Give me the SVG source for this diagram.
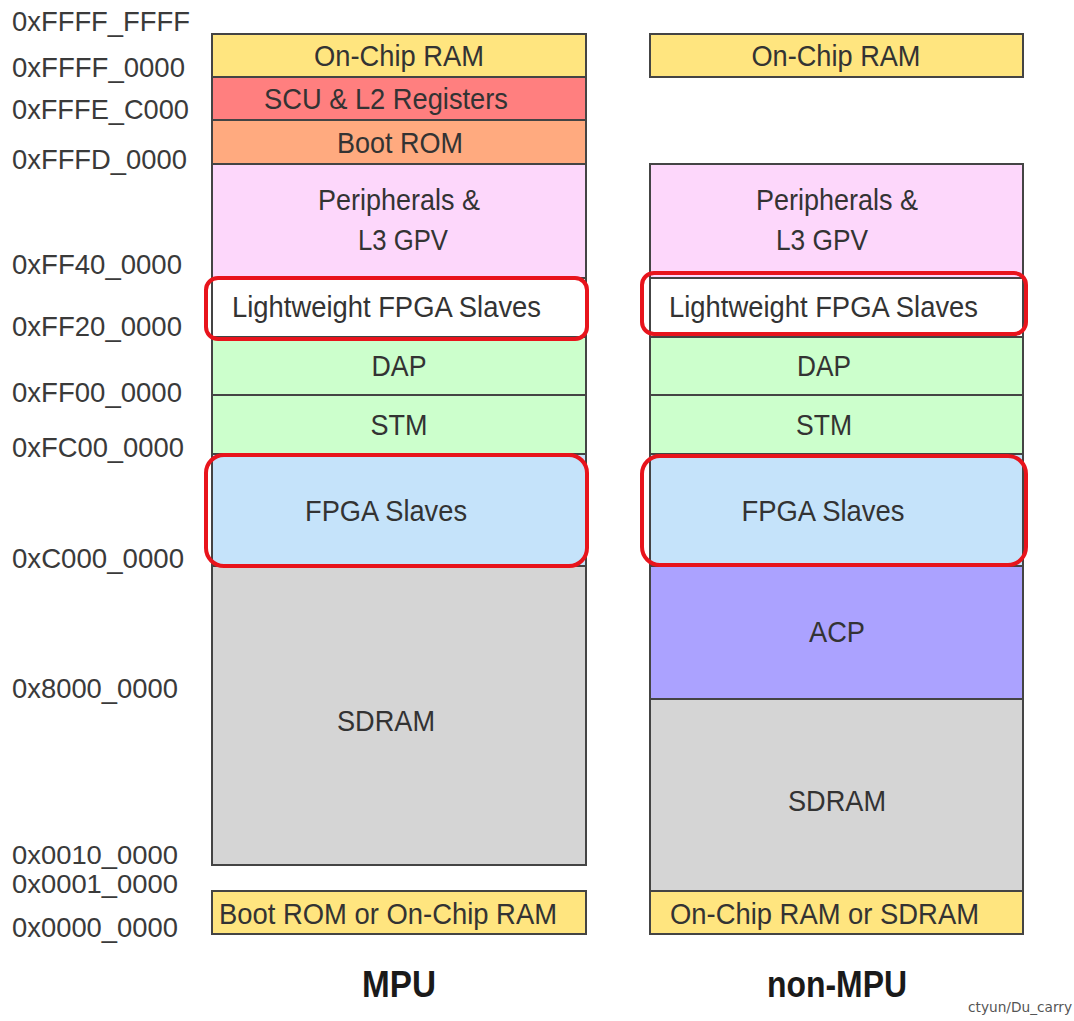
<svg xmlns="http://www.w3.org/2000/svg" width="1074" height="1021" viewBox="0 0 1074 1021">
<style>
.addr{font-family:"Liberation Sans",Arial,sans-serif;font-size:28px;fill:#3a3a3a}
.lbl{font-family:"Liberation Sans",Arial,sans-serif;font-size:30px;fill:#333;text-anchor:middle}
.lbll{font-family:"Liberation Sans",Arial,sans-serif;font-size:30px;fill:#333}
.ttl{font-family:"Liberation Sans",Arial,sans-serif;font-size:37px;font-weight:bold;fill:#1a1a1a;text-anchor:middle}
.box{stroke:#444;stroke-width:2}
.hl{fill:none;stroke:#e8141c;stroke-width:4}
</style>
<rect width="1074" height="1021" fill="#ffffff"/>
<g id="addresses">
<text class="addr" x="12" y="31" textLength="178" lengthAdjust="spacingAndGlyphs">0xFFFF_FFFF</text>
<text class="addr" x="12" y="77" textLength="173" lengthAdjust="spacingAndGlyphs">0xFFFF_0000</text>
<text class="addr" x="12" y="119" textLength="177" lengthAdjust="spacingAndGlyphs">0xFFFE_C000</text>
<text class="addr" x="12" y="169" textLength="175" lengthAdjust="spacingAndGlyphs">0xFFFD_0000</text>
<text class="addr" x="12" y="274" textLength="170" lengthAdjust="spacingAndGlyphs">0xFF40_0000</text>
<text class="addr" x="12" y="336" textLength="170" lengthAdjust="spacingAndGlyphs">0xFF20_0000</text>
<text class="addr" x="12" y="402" textLength="170" lengthAdjust="spacingAndGlyphs">0xFF00_0000</text>
<text class="addr" x="12" y="457" textLength="172" lengthAdjust="spacingAndGlyphs">0xFC00_0000</text>
<text class="addr" x="12" y="568" textLength="172" lengthAdjust="spacingAndGlyphs">0xC000_0000</text>
<text class="addr" x="12" y="698" textLength="166" lengthAdjust="spacingAndGlyphs">0x8000_0000</text>
<text class="addr" x="12" y="864" font-size="26" textLength="166" lengthAdjust="spacingAndGlyphs" style="font-size:26px">0x0010_0000</text>
<text class="addr" x="12" y="893" font-size="26" textLength="166" lengthAdjust="spacingAndGlyphs" style="font-size:26px">0x0001_0000</text>
<text class="addr" x="12" y="937" textLength="166" lengthAdjust="spacingAndGlyphs">0x0000_0000</text>
</g>
<g id="mpu">
<g id="mpu-ocram"><rect class="box" x="212" y="34" width="374" height="43" fill="#FFE57F"/><text class="lbl" x="399" y="66" textLength="170" lengthAdjust="spacingAndGlyphs">On-Chip RAM</text></g>
<g id="mpu-scu"><rect class="box" x="212" y="77" width="374" height="43" fill="#FF7F7F"/><text class="lbl" x="386" y="109" textLength="244" lengthAdjust="spacingAndGlyphs">SCU &amp; L2 Registers</text></g>
<g id="mpu-bootrom"><rect class="box" x="212" y="120" width="374" height="44" fill="#FFAA7F"/><text class="lbl" x="400" y="153" textLength="126" lengthAdjust="spacingAndGlyphs">Boot ROM</text></g>
<g id="mpu-periph"><rect class="box" x="212" y="164" width="374" height="114" fill="#FDD7FB"/><text class="lbl" x="399" y="210" textLength="162" lengthAdjust="spacingAndGlyphs">Peripherals &amp;</text><text class="lbl" x="403" y="250" textLength="90" lengthAdjust="spacingAndGlyphs">L3 GPV</text></g>
<g id="mpu-lw"><rect class="box" x="212" y="278" width="374" height="59" fill="#ffffff"/><text class="lbll" x="232" y="317" textLength="309" lengthAdjust="spacingAndGlyphs">Lightweight FPGA Slaves</text></g>
<g id="mpu-dap"><rect class="box" x="212" y="337" width="374" height="58" fill="#CCFFCC"/><text class="lbl" x="399" y="376" textLength="55" lengthAdjust="spacingAndGlyphs">DAP</text></g>
<g id="mpu-stm"><rect class="box" x="212" y="395" width="374" height="59" fill="#CCFFCC"/><text class="lbl" x="399" y="435" textLength="57" lengthAdjust="spacingAndGlyphs">STM</text></g>
<g id="mpu-fpga"><rect class="box" x="212" y="454" width="374" height="112" fill="#C5E3FA"/><text class="lbl" x="386" y="521" textLength="162" lengthAdjust="spacingAndGlyphs">FPGA Slaves</text></g>
<g id="mpu-sdram"><rect class="box" x="212" y="566" width="374" height="299" fill="#D5D5D5"/><text class="lbl" x="386" y="731" textLength="98" lengthAdjust="spacingAndGlyphs">SDRAM</text></g>
<g id="mpu-low"><rect class="box" x="212" y="891" width="374" height="43" fill="#FFE57F"/><text class="lbll" x="219" y="924" textLength="338" lengthAdjust="spacingAndGlyphs">Boot ROM or On-Chip RAM</text></g>
<rect class="hl" x="206" y="278" width="381" height="61" rx="12"/>
<rect class="hl" x="206" y="455" width="381" height="111" rx="18"/>
<text class="ttl" x="399" y="997" textLength="74" lengthAdjust="spacingAndGlyphs">MPU</text>
</g>
<g id="nonmpu">
<g id="n-ocram"><rect class="box" x="650" y="34" width="373" height="43" fill="#FFE57F"/><text class="lbl" x="836" y="66" textLength="169" lengthAdjust="spacingAndGlyphs">On-Chip RAM</text></g>
<g id="n-periph"><rect class="box" x="650" y="164" width="373" height="114" fill="#FDD7FB"/><text class="lbl" x="837" y="210" textLength="162" lengthAdjust="spacingAndGlyphs">Peripherals &amp;</text><text class="lbl" x="822" y="250" textLength="92" lengthAdjust="spacingAndGlyphs">L3 GPV</text></g>
<g id="n-lw"><rect class="box" x="650" y="278" width="373" height="59" fill="#ffffff"/><text class="lbll" x="669" y="317" textLength="309" lengthAdjust="spacingAndGlyphs">Lightweight FPGA Slaves</text></g>
<g id="n-dap"><rect class="box" x="650" y="337" width="373" height="58" fill="#CCFFCC"/><text class="lbl" x="824" y="376" textLength="54" lengthAdjust="spacingAndGlyphs">DAP</text></g>
<g id="n-stm"><rect class="box" x="650" y="395" width="373" height="59" fill="#CCFFCC"/><text class="lbl" x="824" y="435" textLength="56" lengthAdjust="spacingAndGlyphs">STM</text></g>
<g id="n-fpga"><rect class="box" x="650" y="454" width="373" height="112" fill="#C5E3FA"/><text class="lbl" x="823" y="521" textLength="163" lengthAdjust="spacingAndGlyphs">FPGA Slaves</text></g>
<g id="n-acp"><rect class="box" x="650" y="566" width="373" height="133" fill="#ABA2FF"/><text class="lbl" x="837" y="642" textLength="56" lengthAdjust="spacingAndGlyphs">ACP</text></g>
<g id="n-sdram"><rect class="box" x="650" y="699" width="373" height="192" fill="#D5D5D5"/><text class="lbl" x="837" y="811" textLength="98" lengthAdjust="spacingAndGlyphs">SDRAM</text></g>
<g id="n-low"><rect class="box" x="650" y="891" width="373" height="43" fill="#FFE57F"/><text class="lbll" x="670" y="924" textLength="309" lengthAdjust="spacingAndGlyphs">On-Chip RAM or SDRAM</text></g>
<rect class="hl" x="642" y="273" width="384" height="61" rx="12"/>
<rect class="hl" x="642" y="456" width="384" height="109" rx="18"/>
<text class="ttl" x="837" y="997" textLength="140" lengthAdjust="spacingAndGlyphs">non-MPU</text>
</g>
<g id="connectors"/>
<text x="968" y="1012" font-family="DejaVu Sans,sans-serif" font-size="14" fill="#555" textLength="104" lengthAdjust="spacingAndGlyphs">ctyun/Du_carry</text>
</svg>
